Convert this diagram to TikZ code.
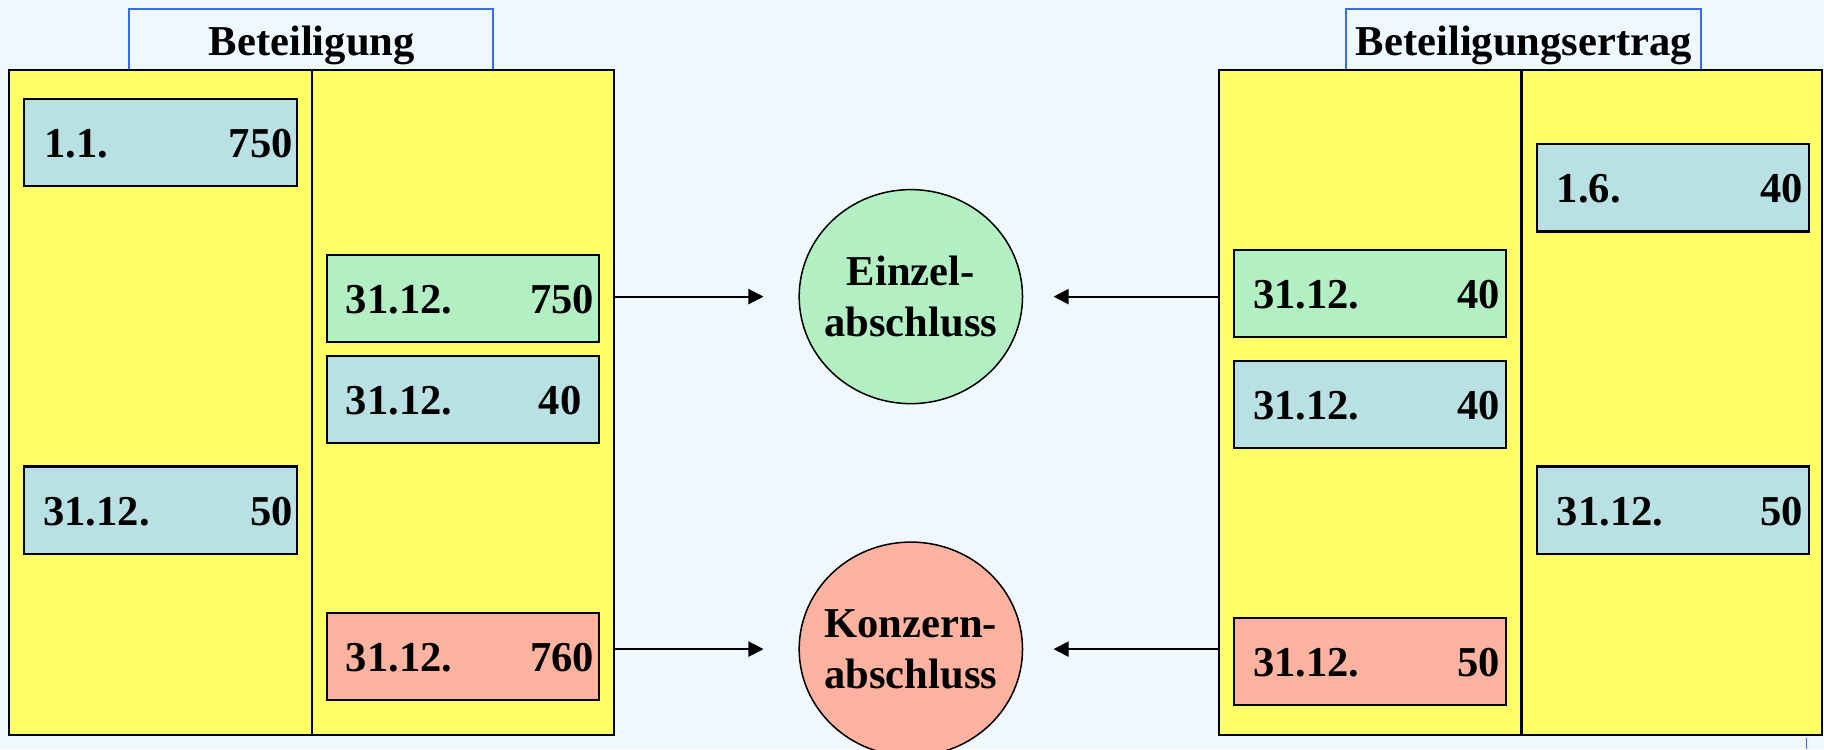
\documentclass[tikz,border=0pt]{standalone}
\usepackage{fontspec}
\setmainfont{Liberation Serif}
\usetikzlibrary{shapes.geometric,arrows.meta,calc}
\definecolor{bgcol}{HTML}{F0F8FF}
\definecolor{acctyellow}{HTML}{FFFF66}
\definecolor{entryblue}{HTML}{B9E0E3}
\definecolor{entrygreen}{HTML}{B2F0C4}
\definecolor{entrysalmon}{HTML}{FDB3A0}
\definecolor{titleblue}{HTML}{3A6BFF}
\tikzset{
  bigfont/.style={font=\fontsize{36.6}{44}\selectfont\bfseries},
  account/.style={draw=black, line width=2pt, fill=acctyellow, rectangle, inner sep=0pt},
  titlebox/.style={draw=titleblue, line width=1.5pt, rectangle, inner sep=0pt},
  entry/.style={draw=black, line width=1.8pt, rectangle, inner sep=0pt,
    minimum width=234pt, minimum height=75pt},
  eb/.style={entry, fill=entryblue},
  eg/.style={entry, fill=entrygreen},
  es/.style={entry, fill=entrysalmon},
  datetxt/.style={bigfont, anchor=base west, inner sep=0pt},
  amttxt/.style={bigfont, anchor=base east, inner sep=0pt},
  closing/.style={ellipse, draw=black, line width=1.3pt, inner sep=0pt,
    minimum width=192pt, minimum height=184pt},
  closingtxt/.style={bigfont, align=center, inner sep=0pt},
  arr/.style={line width=1.7pt, -{Triangle[length=13pt,width=13pt]}}
}
\begin{document}
\begin{tikzpicture}[x=1pt,y=-1pt]
  % page and background
  \fill[bgcol] (0,0) rectangle (1568,644);
  \useasboundingbox (0,0) rectangle (1568,644);

  % ---- account "Beteiligung" ----
  \node[titlebox, minimum width=313pt, minimum height=52pt] (ttlL) at (267.5,34) {};
  \node[bigfont, anchor=base, inner sep=0pt] (ttlLtxt) at (268,48) {Beteiligung};
  \node[account, minimum width=520pt, minimum height=572pt] (accL) at (268,346) {};
  \draw[line width=2pt] (accL.north) -- (accL.south);

  % ---- account "Beteiligungsertrag" ----
  \node[titlebox, minimum width=305pt, minimum height=52pt] (ttlR) at (1309.5,34) {};
  \node[bigfont, anchor=base, inner sep=0pt] (ttlRtxt) at (1310,48) {Beteiligungsertrag};
  \node[account, minimum width=518.5pt, minimum height=572pt] (accR) at (1307.25,346) {};
  \draw[line width=2pt] (1308,60) -- (1308,632);

  % ---- entries, left account ----
  \node[eb] (l11)  at (138,122.5) {};
  \node[eg] (l750) at (398,256.5) {};
  \node[eb] (l40)  at (398,343.5) {};
  \node[eb] (l50)  at (138,438.5) {};
  \node[es] (l760) at (398,564.5) {};

  \node[datetxt] (l11d)  at ($(l11.west)+(18,13)$)  {1.1.};
  \node[amttxt]  (l11a)  at ($(l11.east)+(-4,13)$)  {750};
  \node[datetxt] (l750d) at ($(l750.west)+(17,13)$) {31.12.};
  \node[amttxt]  (l750a) at ($(l750.east)+(-5,13)$) {750};
  \node[datetxt] (l40d)  at ($(l40.west)+(17,13)$)  {31.12.};
  \node[amttxt]  (l40a)  at ($(l40.east)+(-16,13)$) {40};
  \node[datetxt] (l50d)  at ($(l50.west)+(17,13)$)  {31.12.};
  \node[amttxt]  (l50a)  at ($(l50.east)+(-4,13)$)  {50};
  \node[datetxt] (l760d) at ($(l760.west)+(17,13)$) {31.12.};
  \node[amttxt]  (l760a) at ($(l760.east)+(-5,13)$) {760};

  % ---- entries, right account ----
  \node[eb] (r16)  at (1438,161.5) {};
  \node[eg] (rg40) at (1178,252.5) {};
  \node[eb] (rb40) at (1178,347.5) {};
  \node[eb] (r50)  at (1438,438.5) {};
  \node[es] (rs50) at (1178,568.5) {};

  \node[datetxt] (r16d)  at ($(r16.west)+(18,13)$)  {1.6.};
  \node[amttxt]  (r16a)  at ($(r16.east)+(-6,13)$)  {40};
  \node[datetxt] (rg40d) at ($(rg40.west)+(17,13)$) {31.12.};
  \node[amttxt]  (rg40a) at ($(rg40.east)+(-6,13)$) {40};
  \node[datetxt] (rb40d) at ($(rb40.west)+(17,13)$) {31.12.};
  \node[amttxt]  (rb40a) at ($(rb40.east)+(-6,13)$) {40};
  \node[datetxt] (r50d)  at ($(r50.west)+(18,13)$)  {31.12.};
  \node[amttxt]  (r50a)  at ($(r50.east)+(-6,13)$)  {50};
  \node[datetxt] (rs50d) at ($(rs50.west)+(17,13)$) {31.12.};
  \node[amttxt]  (rs50a) at ($(rs50.east)+(-6,13)$) {50};

  % ---- closing statements ----
  \node[closing, fill=entrygreen]  (einzel)  at (783,255) {};
  \node[closingtxt] (einzeltxt) at (einzel.center) {Einzel-\\abschluss};
  \node[closing, fill=entrysalmon] (konzern) at (783,558) {};
  \node[closingtxt] (konzerntxt) at (konzern.center) {Konzern-\\abschluss};

  % ---- transfers ----
  \draw[arr] (accL.east |- einzel)  -- ([xshift=-30pt]einzel.west);
  \draw[arr] (accL.east |- konzern) -- ([xshift=-30pt]konzern.west);
  \draw[arr] (accR.west |- einzel)  -- ([xshift=26pt]einzel.east);
  \draw[arr] (accR.west |- konzern) -- ([xshift=26pt]konzern.east);

  % edge of a further title frame below the page
  \draw[titleblue, line width=1.5pt] (1553,634) -- (1553,644);
\end{tikzpicture}
\end{document}
